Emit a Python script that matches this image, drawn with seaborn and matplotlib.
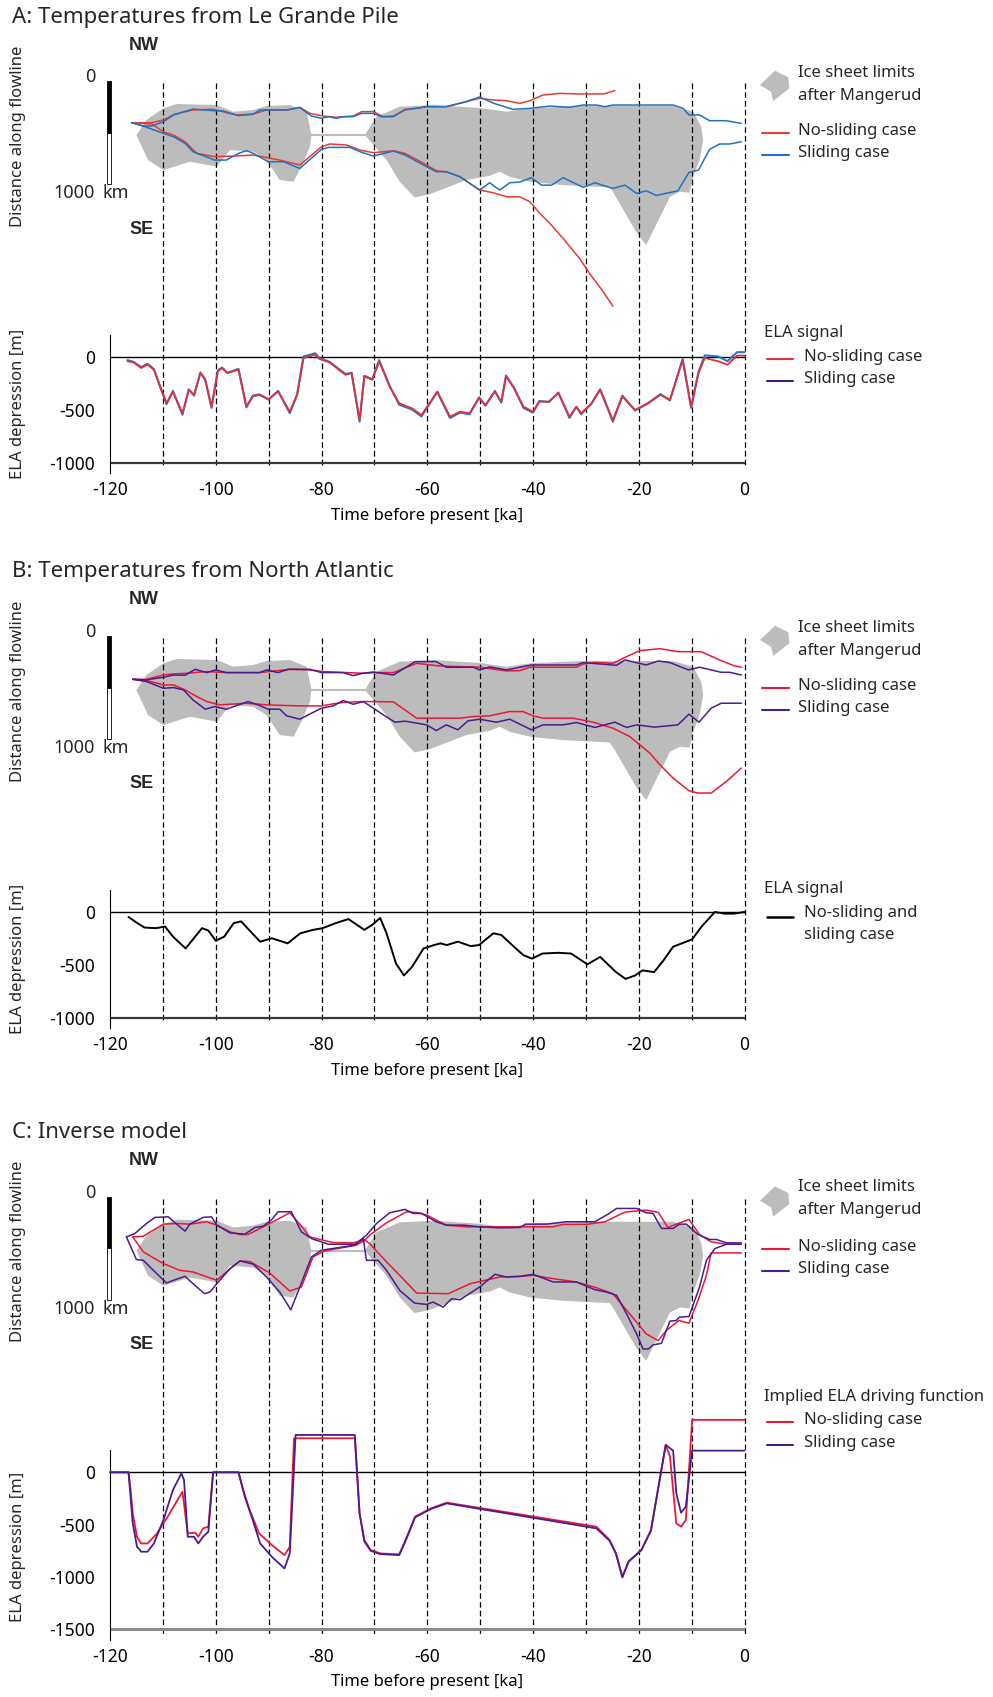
import matplotlib
matplotlib.use("Agg")
import numpy as np
import pandas as pd
import matplotlib.pyplot as plt
import seaborn as sns
from matplotlib.lines import Line2D
from matplotlib.patches import Polygon

sns.set_theme(style="white")
plt.rcParams['font.family'] = ['Noto Sans', 'DejaVu Sans']

# ---------------- data ----------------
# Ice-sheet limits after Mangerud (time ka, distance km)
ice1_t = [-115.0, -113.1, -109.9, -107.4, -99.8, -96.7, -92.9, -90.4, -86.0, -82.8, -81.9,
          -82.2, -83.8, -85.3, -87.9, -90.4, -92.9, -97.3, -99.8, -104.9, -109.9, -112.8]
ice1_km = [524, 378, 265, 223, 233, 298, 281, 243, 233, 298, 524,
           637, 831, 977, 961, 767, 686, 670, 831, 783, 864, 767]
ice2_t = [-71.8, -69.6, -65.2, -58.9, -50.1, -45.0, -40.6, -31.2, -13.5, -9.7, -8.2, -7.8, -8.5, -9.7, -10.4,
          -12.2, -14.1, -18.6, -20.5, -24.9, -25.5,
          -34.3, -40.6, -44.4, -46.3, -48.2, -52.6, -59.5, -62.4, -65.2, -67.7]
ice2_km = [524, 346, 249, 233, 262, 298, 265, 243, 243, 298, 443, 573, 767, 929, 1084,
           1074, 1123, 1592, 1463, 1074, 1032,
           1010, 977, 929, 880, 920, 961, 1097, 1129, 977, 767]
bridge_t = [-81.9, -71.8]
bridge_km = [524, 524]

# Panel A flowline margins
A_ns_up_t = [-115.9, -112.1, -109.9, -107.7, -104.3, -100.5, -96.1, -92.9, -90.4, -86.6, -84.1, -82.2, -79.7, -77.2,
             -74.0, -72.4, -70.2, -68.3, -66.4, -64.2, -60.1, -56.4, -52.6, -50.1, -47.5, -45.0, -42.5, -40.6,
             -38.1, -34.9, -31.2, -26.7, -24.5]
A_ns_up_km = [405, 405, 378, 320, 281, 275, 330, 320, 281, 281, 255, 314, 340, 352, 340, 297, 297, 346, 340, 281,
              249, 249, 200, 168, 184, 191, 217, 191, 136, 120, 126, 126, 94]
A_s_up_t = [-115.9, -113.7, -112.1, -109.9, -108.0, -104.3, -100.5, -98.6, -95.7, -92.9, -91.7, -88.5, -86.6, -84.1,
            -81.9, -80.0, -78.7, -77.2, -75.9, -74.0, -72.4, -70.2, -68.7, -66.4, -64.2, -62.0, -60.1, -56.4,
            -55.1, -52.6, -50.1, -47.5, -43.8, -40.6, -36.8, -33.1, -30.5, -28.0, -26.4, -24.9, -13.5, -11.6,
            -10.5, -8.5, -6.6, -3.5, -0.6]
A_s_up_km = [405, 437, 437, 395, 330, 272, 288, 291, 336, 323, 281, 281, 281, 259, 340, 362, 346, 362, 346, 346,
             314, 314, 346, 346, 275, 265, 249, 249, 233, 200, 155, 215, 275, 265, 243, 255, 233, 233, 249, 233,
             233, 265, 330, 330, 385, 385, 411]
A_ns_lo_t = [-115.9, -112.1, -109.9, -108.0, -105.8, -103.6, -100.2, -96.7, -92.9, -87.9, -84.1, -80.0, -78.4,
             -75.3, -72.7, -70.2, -66.4, -64.2, -60.1, -58.3, -56.4, -53.8, -50.1, -47.5, -45.0, -42.5, -40.6,
             -38.7, -36.8, -34.3, -31.2, -29.3, -26.7, -24.9]
A_ns_lo_km = [405, 417, 492, 524, 589, 702, 734, 728, 718, 767, 815, 637, 611, 621, 670, 696, 676, 702, 815, 870,
              880, 929, 1058, 1084, 1123, 1123, 1171, 1285, 1382, 1527, 1721, 1867, 2045, 2184]
A_s_lo_t = [-115.9, -113.7, -109.9, -108.0, -105.8, -104.3, -100.2, -98.0, -95.7, -94.2, -92.9, -90.1, -87.2,
            -84.1, -80.0, -78.7, -74.6, -72.7, -70.2, -66.4, -64.2, -60.1, -58.3, -56.4, -53.8, -50.1, -48.2,
            -46.3, -44.4, -42.5, -40.3, -38.4, -36.5, -34.3, -30.5, -28.3, -24.9, -22.6, -20.4, -18.6, -16.7,
            -12.6, -10.5, -8.7, -6.6, -4.7, -2.8, -0.6]
A_s_lo_km = [405, 437, 508, 540, 605, 686, 767, 767, 702, 676, 702, 783, 783, 848, 663, 644, 644, 686, 728, 679,
             718, 831, 880, 880, 929, 1058, 987, 1058, 987, 980, 938, 1010, 1010, 938, 1032, 987, 1042, 1010,
             1090, 1065, 1110, 1065, 886, 864, 663, 611, 611, 589]

# Panel A ELA signal
A_ela_t = [-116.7, -115.6, -114.1, -112.9, -111.7, -110.5, -109.3, -108.1, -106.3, -105.1, -104.1, -102.9, -102.0,
           -100.8, -99.6, -98.8, -97.8, -95.7, -94.2, -93.0, -91.8, -90.0, -88.2, -86.0, -84.6, -83.4, -82.2,
           -81.2, -80.4, -78.5, -75.5, -74.3, -72.8, -71.9, -70.4, -69.1, -67.1, -65.3, -62.9, -61.1, -58.1,
           -55.7, -53.8, -52.0, -50.2, -49.0, -47.2, -46.0, -45.1, -43.6, -41.8, -40.0, -38.8, -37.0, -35.2,
           -33.1, -31.8, -30.9, -29.0, -27.3, -24.9, -23.1, -20.7, -18.3, -15.9, -14.1, -11.7, -10.1, -8.7,
           -7.5, -5.0, -3.2, -1.4, 0.0]
A_ela_ns = [-41, -50, -104, -73, -120, -278, -437, -326, -532, -310, -357, -152, -209, -468, -136, -104, -152,
            -120, -468, -373, -358, -399, -326, -516, -358, -9, 6, 22, -19, -51, -168, -152, -595, -184, -215,
            -41, -279, -437, -484, -548, -326, -563, -516, -532, -389, -453, -326, -421, -184, -294, -468, -516,
            -421, -421, -342, -563, -468, -532, -440, -310, -595, -373, -500, -437, -358, -405, -25, -468, -152,
            -9, -41, -73, 13, 13]
A_ela_s = [-30, -45, -95, -65, -115, -285, -445, -320, -545, -305, -365, -145, -215, -480, -125, -100, -150,
           -112, -475, -365, -352, -400, -320, -530, -350, 5, 20, 35, -10, -45, -160, -150, -610, -178, -210,
           -30, -275, -450, -495, -560, -330, -575, -525, -540, -380, -460, -320, -430, -175, -290, -480, -525,
           -415, -425, -335, -575, -470, -540, -445, -305, -610, -365, -505, -440, -350, -410, -20, -480, -140,
           15, 5, -40, 45, 45]

# Panel B flowline margins
B_ns_up_t = [-115.7, -113.1, -109.9, -108.0, -105.5, -101.7, -98.0, -91.7, -86.0, -82.2, -79.7, -75.3, -72.1,
             -69.6, -66.4, -62.0, -57.6, -50.1, -45.0, -42.5, -40.6, -31.8, -30.5, -28.3, -24.9, -22.3, -19.8,
             -16.0, -12.6, -8.2, -4.7, -2.2, -0.6]
B_ns_up_km = [420, 420, 378, 368, 361, 345, 355, 355, 323, 329, 345, 355, 361, 355, 355, 265, 291, 303, 339, 336,
              303, 303, 271, 255, 265, 200, 142, 123, 152, 152, 232, 284, 303]
B_s_up_t = [-115.7, -113.1, -109.9, -108.0, -105.8, -103.9, -101.7, -100.0, -98.0, -91.7, -90.4, -88.2, -86.3,
            -82.2, -80.0, -75.9, -74.0, -72.1, -70.2, -66.4, -62.3, -58.3, -56.4, -51.3, -50.1, -48.2, -45.0,
            -40.3, -31.8, -30.5, -24.2, -22.6, -18.6, -16.3, -14.1, -10.6, -8.5, -4.4, -2.8, -0.6]
B_s_up_km = [420, 426, 400, 378, 381, 323, 355, 329, 355, 355, 329, 355, 323, 323, 355, 355, 384, 361, 349, 378,
             249, 249, 303, 303, 329, 300, 329, 281, 281, 258, 284, 232, 281, 242, 258, 329, 303, 352, 352, 378]
B_ns_lo_t = [-115.7, -113.1, -109.9, -108.0, -105.8, -103.6, -101.7, -99.2, -94.2, -90.4, -84.1, -80.0, -77.8,
             -75.9, -72.7, -70.2, -66.4, -62.0, -58.3, -53.8, -51.3, -48.2, -44.4, -41.9, -40.0, -38.1, -32.4,
             -28.6, -24.9, -21.7, -17.9, -16.0, -13.5, -10.5, -8.8, -6.3, -3.4, -0.6]
B_ns_lo_km = [420, 432, 474, 474, 523, 587, 636, 668, 652, 668, 678, 678, 658, 645, 636, 636, 639, 797, 797, 797,
              781, 774, 733, 733, 774, 797, 797, 836, 894, 975, 1136, 1249, 1378, 1501, 1523, 1523, 1410, 1281]
B_s_lo_t = [-115.7, -113.1, -109.9, -108.0, -106.1, -104.3, -102.0, -100.2, -98.0, -93.9, -92.0, -90.1, -87.9,
            -86.6, -84.1, -81.9, -80.0, -77.8, -75.9, -74.0, -72.1, -70.2, -68.3, -66.1, -64.2, -60.1, -58.3,
            -56.4, -54.2, -52.3, -50.1, -46.9, -44.4, -40.3, -38.1, -34.3, -31.8, -28.3, -24.5, -22.3, -20.4,
            -17.0, -12.6, -10.5, -8.6, -6.3, -4.4, -0.6]
B_s_lo_km = [420, 442, 507, 500, 523, 620, 710, 684, 710, 636, 668, 710, 710, 774, 807, 749, 700, 678, 626, 662,
             636, 700, 765, 836, 826, 862, 917, 862, 910, 823, 807, 836, 807, 910, 862, 862, 839, 887, 836, 887,
             862, 884, 862, 758, 836, 700, 652, 652]

# Panel B ELA signal (same for both cases)
B_ela_t = [-116.5, -115.3, -113.5, -111.3, -109.6, -108.1, -105.7, -102.6, -101.4, -100.0, -98.4, -96.6, -95.2,
           -93.6, -91.6, -89.4, -86.4, -84.0, -81.6, -79.8, -77.3, -74.9, -71.9, -70.4, -68.9, -67.7, -65.9,
           -64.4, -62.9, -60.7, -58.7, -57.5, -56.3, -54.2, -51.8, -50.2, -47.5, -46.0, -43.6, -41.8, -40.2,
           -38.2, -35.2, -32.8, -29.7, -27.3, -24.3, -22.5, -20.7, -19.3, -17.1, -15.3, -13.5, -9.9, -8.1,
           -5.6, -3.8, -2.0, 0.0]
B_ela = [-48, -89, -147, -153, -137, -232, -344, -153, -175, -271, -233, -105, -89, -175, -280, -248, -296, -201,
         -169, -153, -105, -67, -169, -121, -57, -201, -487, -599, -519, -344, -312, -296, -312, -280, -322, -312,
         -201, -217, -328, -408, -440, -392, -385, -392, -494, -424, -567, -631, -599, -551, -567, -455, -328,
         -258, -137, 0, -16, -16, 0]

# Panel C flowline margins
C_ns_up_t = [-115.7, -113.7, -109.9, -107.4, -104.9, -101.7, -99.8, -97.3, -95.4, -93.9, -89.8, -86.0, -84.1,
             -82.2, -79.7, -77.8, -74.0, -71.8, -70.9, -67.7, -63.9, -61.7, -60.1, -56.4, -52.6, -50.1, -40.6,
             -36.2, -34.3, -29.9, -26.4, -22.6, -18.6, -16.3, -14.5, -12.6, -10.5, -8.5, -6.3, -3.5, -0.6]
C_ns_up_km = [390, 383, 266, 260, 266, 243, 276, 341, 367, 367, 260, 156, 266, 390, 422, 445, 448, 422, 373, 253,
              146, 156, 178, 276, 292, 292, 292, 292, 269, 269, 243, 149, 130, 152, 299, 260, 221, 367, 438, 461,
              461]
C_s_up_t = [-116.9, -115.3, -113.1, -111.5, -109.0, -107.4, -105.8, -104.9, -102.4, -100.8, -99.8, -97.3, -94.5,
            -92.6, -91.0, -89.4, -88.2, -85.7, -83.8, -81.9, -78.7, -73.7, -72.7, -71.5, -69.6, -67.1, -64.2,
            -62.7, -61.1, -58.3, -56.4, -53.2, -50.1, -46.3, -42.5, -41.4, -37.5, -33.7, -28.3, -25.8, -24.2,
            -20.4, -18.6, -17.3, -15.7, -13.5, -12.3, -11.0, -8.8, -6.6, -5.3, -3.4, -0.6]
C_s_up_km = [390, 357, 260, 201, 195, 266, 334, 266, 201, 195, 276, 351, 363, 299, 286, 221, 146, 146, 341, 406,
             461, 461, 422, 373, 260, 156, 123, 162, 162, 243, 276, 276, 292, 302, 299, 266, 266, 243, 243, 169,
             114, 114, 156, 162, 308, 308, 266, 266, 367, 415, 415, 448, 448]
C_ns_lo_t = [-115.7, -113.7, -109.9, -106.8, -104.3, -99.8, -97.3, -95.4, -93.5, -89.8, -86.0, -83.8, -81.6,
             -79.4, -73.4, -71.8, -70.9, -67.7, -65.2, -62.0, -56.0, -51.9, -46.3, -42.5, -40.0, -36.2, -31.8,
             -28.0, -24.9, -20.4, -18.6, -16.3, -14.8, -12.4, -10.5, -8.8, -7.2, -6.3, -2.8, -0.6]
C_ns_lo_km = [390, 535, 649, 714, 730, 811, 698, 623, 630, 740, 915, 876, 584, 526, 470, 422, 454, 633, 763, 935,
              941, 844, 779, 773, 763, 795, 827, 883, 941, 1217, 1331, 1396, 1298, 1201, 1227, 1006, 763, 545,
              545, 545]
C_s_lo_t = [-116.9, -115.0, -113.7, -111.8, -109.3, -108.0, -105.8, -104.3, -102.1, -101.1, -99.8, -97.3, -95.4,
            -92.9, -90.4, -87.9, -85.8, -84.1, -81.9, -80.0, -73.7, -72.1, -71.5, -69.3, -67.7, -65.2, -62.4,
            -60.1, -58.9, -57.0, -55.4, -53.8, -50.1, -47.2, -45.0, -42.5, -40.0, -36.2, -31.8, -28.3, -26.1,
            -24.2, -22.3, -20.4, -19.2, -18.2, -17.3, -15.7, -14.1, -12.9, -12.3, -10.5, -8.5, -7.2, -5.6,
            -3.4, -0.6]
C_s_lo_km = [390, 610, 617, 714, 837, 811, 772, 844, 941, 925, 844, 698, 623, 655, 779, 925, 1097, 876, 584, 519,
             470, 406, 617, 617, 714, 909, 1032, 1045, 1022, 1071, 990, 1000, 876, 753, 779, 773, 753, 827, 827,
             902, 925, 957, 1136, 1331, 1477, 1477, 1438, 1422, 1207, 1201, 1168, 1162, 876, 617, 503, 461, 461]

# Panel C implied ELA driving function
C_ela_ns_t = [-120.0, -116.5, -116.1, -115.7, -114.9, -114.1, -112.9, -111.1, -108.7, -106.3, -105.3, -103.9,
              -103.3, -102.4, -101.4, -100.5, -95.7, -94.8, -93.6, -91.8, -89.4, -87.0, -86.0, -85.2, -73.7,
              -72.8, -71.9, -70.7, -68.9, -65.3, -64.1, -62.3, -59.3, -56.3, -28.0, -25.5, -24.3, -23.1, -21.9,
              -19.5, -17.7, -14.9, -14.1, -12.9, -12.0, -11.1, -9.9, 0.0]
C_ela_ns = [0, 0, -169, -392, -616, -680, -680, -584, -392, -185, -584, -577, -616, -536, -520, 0, 0, -169, -360,
            -584, -695, -791, -712, 325, 325, -392, -648, -743, -775, -785, -648, -424, -345, -290, -520, -648,
            -775, -998, -855, -743, -552, 262, 150, -488, -520, -456, 501, 501]
C_ela_s_t = [-120.0, -116.5, -115.7, -114.9, -114.1, -112.9, -111.7, -109.9, -108.1, -106.5, -106.0, -105.3,
             -104.1, -103.3, -102.4, -101.4, -100.5, -95.7, -94.5, -93.0, -91.6, -89.4, -87.0, -86.0, -84.9,
             -73.7, -72.8, -71.9, -70.7, -68.9, -65.3, -64.1, -62.3, -59.3, -56.3, -28.0, -25.5, -24.3, -23.1,
             -21.9, -19.5, -17.7, -14.9, -13.5, -12.9, -12.0, -11.1, -9.9, 0.0]
C_ela_s = [0, 0, -488, -711, -759, -759, -680, -456, -169, -10, -73, -616, -616, -680, -616, -568, 0, 0, -233,
           -456, -680, -807, -919, -775, 357, 357, -392, -660, -750, -782, -791, -655, -430, -350, -297, -536,
           -655, -780, -1005, -850, -743, -560, 262, 207, -200, -386, -329, 207, 207]

dash_t = [-110, -100, -90, -80, -70, -60, -50, -40, -30, -20, -10, 0]
x_ticks = [-120, -100, -80, -60, -40, -20, 0]
x_tick_labels = ["-120", "-100", "-80", "-60", "-40", "-20", "0"]

# ---------------- style ----------------
GRAY = '#bcbcbc'
A_RED, A_BLUE = '#e63b30', '#1f72c0'
RED, PURPLE = '#ea1838', '#4a1c8e'
ELA_RED, ELA_BLUE, LEG_PURPLE = '#e2303a', '#2478c8', '#3d1c84'
BOLD_FAMILY = ['Liberation Sans', 'DejaVu Sans']

W, H = 993, 1697
fig = plt.figure(figsize=(W / 100, H / 100), dpi=100)
fig.patch.set_facecolor('white')
X0, X1 = 110, 744.5
KPP = 9.7  # km per pixel in flowline panels


def frect(x0, y0, x1, y1):
    return [x0 / W, 1 - y1 / H, (x1 - x0) / W, (y1 - y0) / H]


def ftext(x, y, s, **kw):
    kw.setdefault('va', 'center')
    fig.text(x / W, 1 - y / H, s, **kw)


def fline(x0, x1, y, color, lw=1.5):
    fig.add_artist(Line2D([x0 / W, x1 / W], [1 - y / H, 1 - y / H], transform=fig.transFigure,
                          color=color, lw=lw))


def ficon(B0):
    pts = [(760, 4), (775, -10.3), (788.3, -3.7), (789.3, 7.3), (773.3, 20), (771, 10.7)]
    fig.add_artist(Polygon([(x / W, 1 - (B0 + y) / H) for x, y in pts], closed=True,
                           transform=fig.transFigure, facecolor=GRAY, edgecolor='none'))


def flow_panel(B0, title, lines, dash_bottom, leg_colors, leg_off=0):
    ax = fig.add_axes(frect(X0, B0 - 25, X1, B0 + 240))
    ax.patch.set_visible(False)
    ax.fill(ice1_t, ice1_km, color=GRAY, lw=0, zorder=1)
    ax.fill(ice2_t, ice2_km, color=GRAY, lw=0, zorder=1)
    ax.plot(bridge_t, bridge_km, color=GRAY, lw=1.5, zorder=1)
    ax.vlines(dash_t, 2 * KPP, dash_bottom * KPP, colors='black', linestyles=(0, (4.5, 2.5)),
              lw=0.9, zorder=1.5, clip_on=False)
    for t, km, color in lines:
        sns.lineplot(x=t, y=km, ax=ax, color=color, lw=1.1, estimator=None, sort=False,
                     errorbar=None, zorder=2)
    ax.bar([-120.19], [500], bottom=[0], width=0.76, color='black', edgecolor='black', lw=0.6,
           clip_on=False, zorder=3)
    ax.bar([-120.19], [500], bottom=[500], width=0.76, color='white', edgecolor='black', lw=0.6,
           clip_on=False, zorder=3)
    ax.set_xlim(-120, 0)
    ax.set_ylim(240 * KPP, -25 * KPP)
    ax.axis('off')
    ftext(12, B0 - 64, title, fontsize=16, ha='left')
    ftext(129, B0 - 36, 'NW', fontsize=13, fontweight='bold', ha='left', family=BOLD_FAMILY)
    ftext(129, B0 + 148, 'SE', fontsize=13, fontweight='bold', ha='left', family=BOLD_FAMILY)
    ftext(95, B0 - 4, '0', fontsize=13, ha='right')
    ftext(95, B0 + 112, '1000', fontsize=13, ha='right')
    ftext(103, B0 + 112, 'km', fontsize=13, ha='left')
    ftext(18, B0 + 55, 'Distance along flowline', fontsize=12, rotation=90, ha='center')
    # legend
    ficon(B0)
    ftext(798, B0 - 8 + leg_off, 'Ice sheet limits', fontsize=12, ha='left')
    ftext(798, B0 + 15 + leg_off, 'after Mangerud', fontsize=12, ha='left')
    ftext(798, B0 + 50, 'No-sliding case', fontsize=12, ha='left')
    ftext(798, B0 + 72, 'Sliding case', fontsize=12, ha='left')
    fline(762, 789, B0 + 52, leg_colors[0])
    fline(762, 789, B0 + 74, leg_colors[1])
    return ax


def ela_panel(B0, y0, y1, ylim, yticks, series, base_val, base_color, base_lw, ylab_y):
    ax = fig.add_axes(frect(X0, B0 + y0, X1, B0 + y1))
    ax.patch.set_visible(False)
    ax.axhline(0, color='black', lw=1.0, zorder=1)
    ax.axhline(base_val, color=base_color, lw=base_lw, zorder=1)
    for t, v, color, lw in series:
        sns.lineplot(x=t, y=v, ax=ax, color=color, lw=lw, estimator=None, sort=False,
                     errorbar=None, clip_on=False, zorder=3)
    ax.set_xlim(-120, 0)
    ax.set_ylim(*ylim)
    for s in ['top', 'right', 'bottom']:
        ax.spines[s].set_visible(False)
    ax.spines['left'].set_color('black')
    ax.spines['left'].set_linewidth(0.8)
    ax.set_xticks(x_ticks)
    ax.set_xticklabels(x_tick_labels, fontsize=12.5)
    ax.set_yticks(yticks)
    ax.set_yticklabels([str(v) for v in yticks], fontsize=12.5)
    ax.tick_params(axis='both', length=0, colors='black')
    ax.tick_params(axis='x', pad=6)
    ax.tick_params(axis='y', pad=11)
    ax.set_xlabel('Time before present [ka]', fontsize=12, labelpad=6, color='black')
    ax.set_ylabel('')
    ftext(18, B0 + ylab_y, 'ELA depression [m]', fontsize=12, rotation=90, ha='center')
    return ax


# ---------------- Panel A ----------------
B0 = 81
flow_panel(B0, 'A: Temperatures from Le Grande Pile',
           [(A_ns_up_t, A_ns_up_km, A_RED), (A_ns_lo_t, A_ns_lo_km, A_RED),
            (A_s_up_t, A_s_up_km, A_BLUE), (A_s_lo_t, A_s_lo_km, A_BLUE)],
           387, (A_RED, A_BLUE))
ela_panel(B0, 254, 392, (-1094, 207), [0, -500, -1000],
          [(A_ela_t, A_ela_s, ELA_BLUE, 1.5), (A_ela_t, A_ela_ns, ELA_RED, 1.3)],
          -1000, '#3a3a3a', 1.6, 323)
ftext(764, B0 + 252, 'ELA signal', fontsize=12, ha='left')
ftext(804, B0 + 276, 'No-sliding case', fontsize=12, ha='left')
ftext(804, B0 + 298, 'Sliding case', fontsize=12, ha='left')
fline(767, 793, B0 + 278, ELA_RED)
fline(767, 793, B0 + 300, LEG_PURPLE)

# ---------------- Panel B ----------------
B0 = 636
flow_panel(B0, 'B: Temperatures from North Atlantic',
           [(B_ns_up_t, B_ns_up_km, RED), (B_ns_lo_t, B_ns_lo_km, RED),
            (B_s_up_t, B_s_up_km, PURPLE), (B_s_lo_t, B_s_lo_km, PURPLE)],
           387, (RED, PURPLE))
ela_panel(B0, 254, 392, (-1094, 207), [0, -500, -1000],
          [(B_ela_t, B_ela, 'black', 1.4)],
          -1000, '#3a3a3a', 1.6, 323)
ftext(764, B0 + 253, 'ELA signal', fontsize=12, ha='left')
ftext(804, B0 + 277, 'No-sliding and', fontsize=12, ha='left')
ftext(804, B0 + 299, 'sliding case', fontsize=12, ha='left')
fline(767, 793, B0 + 281, 'black', 1.8)

# ---------------- Panel C ----------------
B0 = 1196.7
flow_panel(B0, 'C: Inverse model',
           [(C_ns_up_t, C_ns_up_km, RED), (C_ns_lo_t, C_ns_lo_km, RED),
            (C_s_up_t, C_s_up_km, PURPLE), (C_s_lo_t, C_s_lo_km, PURPLE)],
           438, (RED, PURPLE), leg_off=-2)
ela_panel(B0, 253, 443, (-1600, 216), [0, -500, -1000, -1500],
          [(C_ela_ns_t, C_ela_ns, RED, 1.3), (C_ela_s_t, C_ela_s, PURPLE, 1.3)],
          -1500, '#8a8a8a', 2.2, 350)
ftext(764, B0 + 200, 'Implied ELA driving function', fontsize=12, ha='left')
ftext(804, B0 + 223, 'No-sliding case', fontsize=12, ha='left')
ftext(804, B0 + 246, 'Sliding case', fontsize=12, ha='left')
fline(767, 793, B0 + 225, RED)
fline(767, 793, B0 + 248, PURPLE)

fig.savefig('out.png', dpi=100, facecolor='white')
